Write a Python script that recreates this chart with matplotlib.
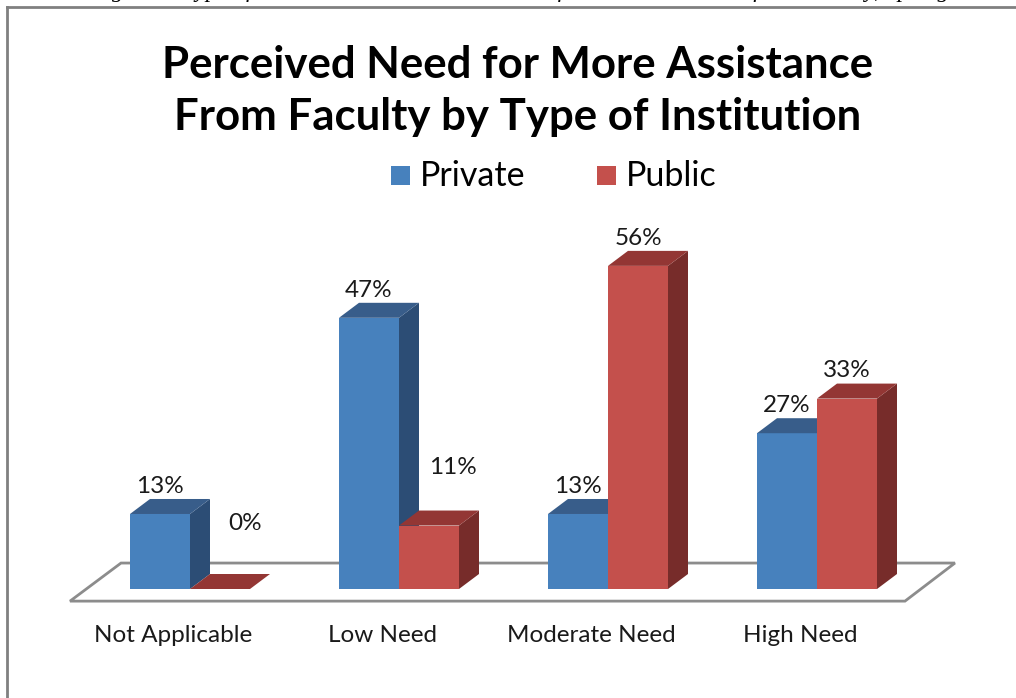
import matplotlib.pyplot as plt
from matplotlib.patches import Polygon, Rectangle

# data
categories = ["Not Applicable", "Low Need", "Moderate Need", "High Need"]
series_names = ["Private", "Public"]
private_vals = [13, 47, 13, 27]
public_vals = [0, 11, 56, 33]

title = "Perceived Need for More Assistance\nFrom Faculty by Type of Institution"
caption = "Figure 6. Type of Institution and Perceived Need for More Assistance from Faculty, Spring 2011"

# colours: front, top, side
blue = ("#4781bd", "#385d8a", "#2c4d75")
red = ("#c4504c", "#933634", "#772c2a")

FONT = "Lato"

fig = plt.figure(figsize=(10.16, 6.98), dpi=100)
fig.patch.set_facecolor("white")

# axes in which 1 x unit = one category and y = percent
ax = fig.add_axes([0, 0, 1, 1])
px_x, px_y = 209.0, 5.77          # pixels per unit
x_origin, base_row = 190.0, 589.0
ax.set_xlim(-x_origin / px_x, (1016 - x_origin) / px_x)
ax.set_ylim((base_row - 698) / px_y, base_row / px_y)
ax.axis("off")

bw = 60 / px_x            # bar width
dx, dy = 20 / px_x, 15 / px_y   # bar depth

# floor
floor = Polygon([(-0.574, -2.1), (3.421, -2.1), (3.66, 4.5), (-0.33, 4.5)],
                closed=True, facecolor="white", edgecolor="#8c8c8c", lw=2, zorder=1)
ax.add_patch(floor)


def bar3d(x0, v, cols):
    x1 = x0 + bw
    ax.add_patch(Rectangle((x0, 0), bw, v, facecolor=cols[0], edgecolor="none", zorder=2))
    ax.add_patch(Polygon([(x1, 0), (x1 + dx, dy), (x1 + dx, v + dy), (x1, v)],
                         facecolor=cols[2], edgecolor="none", zorder=2))
    ax.add_patch(Polygon([(x0, v), (x0 + dx, v + dy), (x1 + dx, v + dy), (x1, v)],
                         facecolor=cols[1], edgecolor="none", zorder=2))


# odd label placements (Excel nudges these away from the short bars)
nudges = {(0, 1): (0.12, 6.6), (1, 1): (0.115, 5.2)}

for i, cat in enumerate(categories):
    for j, (vals, cols) in enumerate([(private_vals, blue), (public_vals, red)]):
        v = vals[i]
        x0 = i - bw + j * bw
        bar3d(x0, v, cols)
        ox, oy = nudges.get((i, j), (0.0, 0.0))
        ax.text(x0 + bw / 2 + ox, v + 4.8 + oy, f"{v}%", ha="center", va="center",
                fontsize=17.5, family=FONT, color="#1a1a1a", zorder=5)
    ax.text(i - 0.08, -8.0, cat, ha="center", va="center", fontsize=17.5,
            family=FONT, color="#1a1a1a")

# title
fig.text(0.509, 1 - 91 / 698, title, ha="center", va="center", fontsize=31.5,
         fontweight="bold", family=FONT, linespacing=1.34)

# legend
leg_y = 1 - 176 / 698
for name, cols, xsq in [("Private", blue, 391), ("Public", red, 597)]:
    fig.patches.append(Rectangle((xsq / 1016, leg_y - 9 / 698), 19 / 1016, 19 / 698,
                                 transform=fig.transFigure, facecolor=cols[0],
                                 edgecolor="none"))
    fig.text((xsq + 29) / 1016, leg_y, name, ha="left", va="center",
             fontsize=24.5, family=FONT)

# chart border (only top and left edges visible in the crop)
fig.add_artist(plt.Line2D([7 / 1016, 1], [1 - 7 / 698, 1 - 7 / 698],
                          transform=fig.transFigure, color="#808080", lw=2))
fig.add_artist(plt.Line2D([7 / 1016, 7 / 1016], [0, 1 - 7 / 698],
                          transform=fig.transFigure, color="#808080", lw=2))

# caption above the chart, cut off at the top edge as in the source
fig.text(0.985, 1 + 3.5 / 698, caption, ha="right", va="baseline", fontsize=17,
         style="italic", family="Liberation Serif")

fig.savefig("out.png", dpi=100, facecolor="white")
